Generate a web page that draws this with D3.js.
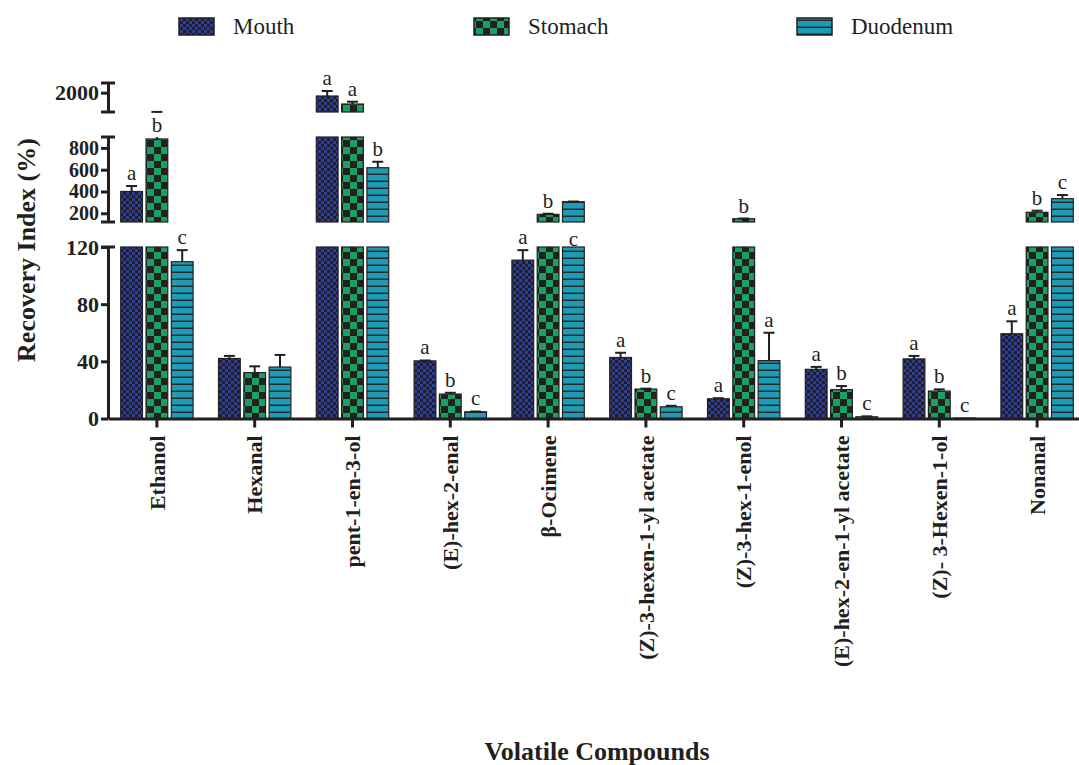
<!DOCTYPE html>
<html>
<head>
<meta charset="utf-8">
<script src="https://cdn.jsdelivr.net/npm/d3@7"></script>
<style>
  body { margin: 0; background: #fff; }
  svg text { font-family: "Liberation Serif", "Times New Roman", Times, serif; fill: #231f20; }
</style>
</head>
<body>
<div id="chart"></div>
<script>
const categories = ["Ethanol", "Hexanal", "pent-1-en-3-ol", "(E)-hex-2-enal", "β-Ocimene",
  "(Z)-3-hexen-1-yl acetate", "(Z)-3-hex-1-enol", "(E)-hex-2-en-1-yl acetate", "(Z)- 3-Hexen-1-ol", "Nonanal"];
const seriesNames = ["Mouth", "Stomach", "Duodenum"];

const mouth      = [400, 42, 1931, 40.3, 110.8, 42.7, 13.8, 34.4, 41.7, 59.3];
const mouthErr   = [50, 1.8, 103, 0.3, 7, 3.3, 0.4, 1.7, 2.1, 8.7];
const mouthLetters = ["a", "", "a", "a", "a", "a", "a", "a", "a", "a"];

const stomach    = [882, 32.1, 1765, 17.1, 190, 20.6, 150, 20.2, 19.2, 209];
const stomachErr = [720, 4.4, 48, 0.9, 6, 0.3, 2, 2.5, 1.2, 14.7];
const stomachLetters = ["b", "", "a", "b", "b", "b", "b", "b", "b", "b"];

const duodenum    = [109.7, 36.0, 618, 4.7, 306, 8.2, 40.5, 1.2, 0.3, 334];
const duodenumErr = [8.1, 8.5, 55, 0.2, 2, 0.7, 19.5, 0.3, 0, 34];
const duodenumLetters = ["c", "", "b", "c", "c", "c", "a", "c", "c", "c"];

// y axis is broken in three pieces
const yTicksLow = [0, 40, 80, 120];
const yTicksMid = [200, 400, 600, 800];
const yTicksTop = [2000];

// letters that sit at the lower axis break instead of above their error bar
const breakLetters = [["β-Ocimene", "Duodenum"]];

const width = 1079, height = 765;
const axisX = 108;
const ink = "#231f20";
const serif = "Liberation Serif, Times New Roman, Times, serif";

const svg = d3.select("#chart").append("svg")
  .attr("width", width)
  .attr("height", height)
  .attr("font-family", serif);

// fill patterns
const defs = svg.append("defs");
const pm = defs.append("pattern").attr("id", "pMouth")
  .attr("patternUnits", "userSpaceOnUse").attr("width", 6).attr("height", 6);
pm.append("rect").attr("width", 6).attr("height", 6).attr("fill", ink);
pm.append("rect").attr("width", 3).attr("height", 3).attr("fill", "#2c3e96");
pm.append("rect").attr("x", 3).attr("y", 3).attr("width", 3).attr("height", 3).attr("fill", "#2c3e96");

const ps = defs.append("pattern").attr("id", "pStomach")
  .attr("patternUnits", "userSpaceOnUse").attr("width", 14).attr("height", 14);
ps.append("rect").attr("width", 14).attr("height", 14).attr("fill", ink);
ps.append("rect").attr("width", 7).attr("height", 7).attr("fill", "#18a061");
ps.append("rect").attr("x", 7).attr("y", 7).attr("width", 7).attr("height", 7).attr("fill", "#18a061");

const pd = defs.append("pattern").attr("id", "pDuo")
  .attr("patternUnits", "userSpaceOnUse").attr("width", 8).attr("height", 7);
pd.append("rect").attr("width", 8).attr("height", 7).attr("fill", "#1e9cb6");
pd.append("rect").attr("y", 5.5).attr("width", 8).attr("height", 1.5).attr("fill", "#2a2a2a");

const fills = { Mouth: "url(#pMouth)", Stomach: "url(#pStomach)", Duodenum: "url(#pDuo)" };

const series = [
  { name: "Mouth", values: mouth, err: mouthErr, letters: mouthLetters },
  { name: "Stomach", values: stomach, err: stomachErr, letters: stomachLetters },
  { name: "Duodenum", values: duodenum, err: duodenumErr, letters: duodenumLetters }
];

// scales
const segs = [
  { scale: d3.scaleLinear().domain([0, 120]).range([418.5, 247]), ticks: yTicksLow, size: 22 },
  { scale: d3.scaleLinear().domain([120, 900]).range([222, 137]), ticks: yTicksMid, size: 20 },
  { scale: d3.scaleLinear().domain([1600, 2200]).range([112, 83]), ticks: yTicksTop, size: 22 }
];

function segIndex(v) {
  for (let i = 0; i < segs.length; i++) {
    if (v <= segs[i].scale.domain()[1]) return i;
  }
  return segs.length - 1;
}

function yOf(v) {
  const s = segs[segIndex(v)].scale;
  const [d0, d1] = s.domain();
  return s(Math.max(d0, Math.min(d1, v)));
}

const x = d3.scaleBand().domain(categories).range([axisX, axisX + 978]).paddingInner(0.26).paddingOuter(0.13);
const xs = d3.scaleBand().domain(seriesNames).range([0, x.bandwidth()]).paddingInner(0.14);

// bars
series.forEach(sr => {
  const g = svg.append("g");
  sr.values.forEach((v, i) => {
    const bx = x(categories[i]) + xs(sr.name);
    segs.forEach(seg => {
      const [d0, d1] = seg.scale.domain();
      if (v <= d0) return;
      const top = seg.scale(Math.min(v, d1));
      g.append("rect")
        .attr("x", bx)
        .attr("y", top)
        .attr("width", xs.bandwidth())
        .attr("height", seg.scale(d0) - top)
        .attr("fill", fills[sr.name])
        .attr("stroke", ink)
        .attr("stroke-width", 1.2);
    });
  });
});

// error bars and letters
series.forEach(sr => {
  const g = svg.append("g").attr("stroke", ink).attr("stroke-width", 2);
  sr.values.forEach((v, i) => {
    const cx = x(categories[i]) + xs(sr.name) + xs.bandwidth() / 2;
    const e = sr.err[i];
    const hiVal = v + e;
    if (e > 0) {
      segs.forEach(seg => {
        const [d0, d1] = seg.scale.domain();
        const lo = Math.max(v, d0), hi = Math.min(hiVal, d1);
        if (hi > lo) {
          g.append("line").attr("x1", cx).attr("x2", cx)
            .attr("y1", seg.scale(lo)).attr("y2", seg.scale(hi));
        }
      });
      const cy = yOf(hiVal);
      g.append("line").attr("x1", cx - 5.5).attr("x2", cx + 5.5)
        .attr("y1", cy).attr("y2", cy);
    }
    const letter = sr.letters[i];
    if (!letter) return;
    let ly;
    const barSeg = segIndex(v);
    if (breakLetters.some(b => b[0] === categories[i] && b[1] === sr.name)) {
      ly = segs[0].scale.range()[1] - 1;
    } else if (e > 0 && segIndex(hiVal) > barSeg) {
      ly = segs[barSeg].scale.range()[1] - 5;
    } else {
      ly = yOf(hiVal) - 6;
    }
    svg.append("text")
      .attr("x", cx)
      .attr("y", ly)
      .attr("text-anchor", "middle")
      .attr("font-family", serif)
      .attr("font-size", 21)
      .text(letter);
  });
});

// y axis pieces
segs.forEach(seg => {
  const g = svg.append("g")
    .attr("transform", `translate(${axisX},0)`)
    .call(d3.axisLeft(seg.scale).tickValues(seg.ticks).tickFormat(d3.format("d"))
      .tickSize(7).tickSizeOuter(0).tickPadding(2));
  g.attr("font-family", serif);
  g.select(".domain").attr("stroke", ink).attr("stroke-width", 3);
  g.selectAll(".tick line").attr("stroke", ink).attr("stroke-width", 3);
  g.selectAll(".tick text")
    .attr("font-weight", "bold")
    .attr("font-size", seg.size)
    .attr("fill", ink);
  // end caps at each break
  const r = seg.scale.range();
  const caps = seg === segs[0] ? [r[1]] : r;
  caps.forEach(cy => {
    g.append("line").attr("x1", -7).attr("x2", 7).attr("y1", cy).attr("y2", cy)
      .attr("stroke", ink).attr("stroke-width", 3);
  });
});

// x axis
const xg = svg.append("g")
  .attr("transform", `translate(0,${segs[0].scale(0)})`)
  .call(d3.axisBottom(x).tickSize(9).tickSizeOuter(0).tickPadding(4));
xg.attr("font-family", serif);
xg.select(".domain").attr("stroke", ink).attr("stroke-width", 3);
xg.selectAll(".tick line").attr("stroke", ink).attr("stroke-width", 3);
xg.selectAll(".tick text")
  .attr("font-weight", "bold")
  .attr("font-size", 22)
  .attr("fill", ink)
  .attr("transform", "rotate(-90)")
  .attr("text-anchor", "end")
  .attr("x", -17)
  .attr("y", 0)
  .attr("dy", "0.35em");

// axis titles
svg.append("text")
  .attr("transform", "translate(35,250) rotate(-90)")
  .attr("text-anchor", "middle")
  .attr("font-family", serif)
  .attr("font-size", 26)
  .attr("font-weight", "bold")
  .text("Recovery Index (%)");

svg.append("text")
  .attr("x", 597)
  .attr("y", 760)
  .attr("text-anchor", "middle")
  .attr("font-family", serif)
  .attr("font-size", 26)
  .attr("font-weight", "bold")
  .text("Volatile Compounds");

// legend
const legendX = [179, 474, 797];
const legend = svg.append("g");
seriesNames.forEach((name, i) => {
  legend.append("rect")
    .attr("x", legendX[i]).attr("y", 18)
    .attr("width", 35).attr("height", 17)
    .attr("fill", fills[name])
    .attr("stroke", ink).attr("stroke-width", 1.5);
  legend.append("text")
    .attr("x", legendX[i] + 54).attr("y", 34)
    .attr("font-family", serif)
    .attr("font-size", 23)
    .text(name);
});
</script>
</body>
</html>
